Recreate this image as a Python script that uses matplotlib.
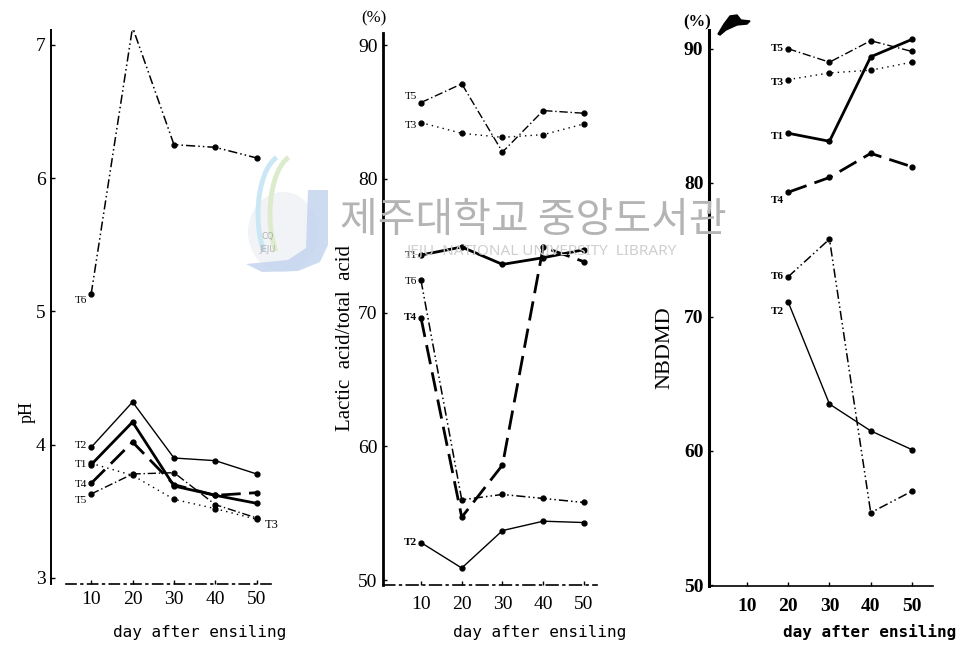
import matplotlib
matplotlib.use('Agg')
import matplotlib.pyplot as plt
from matplotlib.patches import Polygon, Arc, Ellipse

plt.rcParams['font.family'] = ['Liberation Serif', 'DejaVu Serif']

# ---- data ----
days = [10, 20, 30, 40, 50]
days_nb = [20, 30, 40, 50]

ph_t1 = [3.85, 4.17, 3.69, 3.62, 3.56]
ph_t2 = [3.98, 4.32, 3.90, 3.88, 3.78]
ph_t3 = [3.86, 3.77, 3.59, 3.52, 3.44]
ph_t4 = [3.71, 4.02, 3.70, 3.62, 3.64]
ph_t5 = [3.63, 3.78, 3.79, 3.55, 3.45]
ph_t6 = [5.13, 7.13, 6.25, 6.23, 6.15]

la_t1 = [74.3, 74.9, 73.6, 74.1, 74.7]
la_t2 = [52.8, 50.9, 53.7, 54.4, 54.3]
la_t3 = [84.2, 83.4, 83.1, 83.3, 84.1]
la_t4 = [69.6, 54.7, 58.6, 74.9, 73.8]
la_t5 = [85.7, 87.1, 82.0, 85.1, 84.9]
la_t6 = [72.4, 56.0, 56.4, 56.1, 55.8]

nb_t1 = [83.7, 83.1, 89.4, 90.7]
nb_t2 = [71.1, 63.5, 61.5, 60.1]
nb_t3 = [87.7, 88.2, 88.4, 89.0]
nb_t4 = [79.3, 80.4, 82.2, 81.2]
nb_t5 = [90.0, 89.0, 90.6, 89.8]
nb_t6 = [73.0, 75.8, 55.4, 57.0]

ph_ticks = [3, 4, 5, 6, 7]
pct_ticks = [50, 60, 70, 80, 90]

W, H = 960, 646


def fx(x):
    return x / W


def fy(y):
    return 1 - y / H


def box(left, right, top, bottom):
    return [fx(left), fy(bottom), (right - left) / W, (bottom - top) / H]


styles = {
    'T1': dict(color='black', lw=2.0, ls='-'),
    'T2': dict(color='black', lw=1.0, ls='-'),
    'T3': dict(color='black', lw=1.0, ls=(0, (1, 3))),
    'T4': dict(color='black', lw=2.0, ls=(0, (7, 3))),
    'T5': dict(color='black', lw=1.0, ls=(0, (6, 2, 1, 2))),
    'T6': dict(color='black', lw=1.1, ls=(0, (6, 2, 1, 2, 1, 2))),
}

fig = plt.figure(figsize=(9.6, 6.46), dpi=100)

# ---- library watermark ----
fig.text(fx(533), fy(221), '제주대학교 중앙도서관', family=['Noto Sans CJK KR', 'DejaVu Sans'],
         fontsize=29.5, color='#b4b4b4', ha='center', va='center', zorder=0)
fig.text(fx(541), fy(251), 'JEJU  NATIONAL UNIVERSITY  LIBRARY', family=['Noto Sans', 'DejaVu Sans'],
         fontsize=11, color='#cfcfcf', ha='center', va='center', zorder=0)
fig.patches.append(Ellipse((fx(283), fy(232)), 70 / W, 80 / H, transform=fig.transFigure,
                           facecolor='#f1f3f6', edgecolor='none', zorder=0))
jpoly = [(fx(x), fy(y)) for x, y in [(308, 190), (328, 190), (328, 245), (320, 262), (298, 271),
                                      (262, 272), (246, 264), (288, 260), (306, 248)]]
fig.patches.append(Polygon(jpoly, closed=True, transform=fig.transFigure,
                           facecolor='#c4d5ee', edgecolor='none', alpha=0.85, zorder=0))
for cx, col in [(284, '#cbe6f4'), (296, '#dcebcc')]:
    fig.patches.append(Arc((fx(cx), fy(214)), 52 / W, 118 / H, theta1=95, theta2=250,
                           transform=fig.transFigure, color=col, lw=3.5, zorder=0))
fig.text(fx(268), fy(243), 'CQ\nJEJU', fontsize=6, color='#b0b0b0', ha='center', va='center',
         linespacing=1.6, family=['DejaVu Sans'])

# ink blot at the top of the right-hand axis
blot = [(fx(x), fy(y)) for x, y in [(718, 34), (724, 24), (730, 16), (737, 15), (741, 20),
                                     (750, 21), (747, 24), (737, 25), (726, 30), (720, 35)]]
fig.patches.append(Polygon(blot, closed=True, transform=fig.transFigure,
                           facecolor='black', edgecolor='black', zorder=3))


def label_series(ax, x, y, name, dy, weight='normal', side='left'):
    if side == 'left':
        ax.annotate(name, (x, y), xytext=(-3, dy), textcoords='offset points',
                    ha='right', va='center', fontsize=8, fontweight=weight)
    else:
        ax.annotate(name, (x, y), xytext=(6, dy), textcoords='offset points',
                    ha='left', va='center', fontsize=9, fontweight=weight)


def style_axes(ax, xlim, ylim, yticks, xpad, bottom_ls, lw_left):
    ax.set_xlim(*xlim)
    ax.set_ylim(*ylim)
    ax.patch.set_alpha(0)
    for s in ['top', 'right']:
        ax.spines[s].set_visible(False)
    ax.spines['left'].set_linewidth(lw_left)
    ax.spines['bottom'].set_linewidth(1.2)
    ax.spines['bottom'].set_linestyle(bottom_ls)
    ax.set_xticks(days)
    ax.set_yticks(yticks)
    ax.tick_params(axis='x', direction='in', length=3, width=1, pad=xpad, labelsize=14)
    ax.tick_params(axis='y', direction='in', length=3, width=1, pad=4, labelsize=14)


# ---- panel 1: pH ----
ax1 = fig.add_axes(box(51, 275, 30, 584))
style_axes(ax1, (0.3, 54.4), (2.955, 7.11), ph_ticks, 5, (0, (6, 3, 1, 3)), 1.4)
ax1.spines['bottom'].set_bounds(4, 54.4)
for name, vals in [('T6', ph_t6), ('T2', ph_t2), ('T5', ph_t5), ('T3', ph_t3), ('T4', ph_t4), ('T1', ph_t1)]:
    ax1.plot(days, vals, marker='o', ms=3.5, **styles[name])
label_series(ax1, days[0], ph_t6[0], 'T6', -5)
label_series(ax1, days[0], ph_t2[0], 'T2', 1)
label_series(ax1, days[0], ph_t1[0], 'T1', 0)
label_series(ax1, days[0], ph_t4[0], 'T4', -1)
label_series(ax1, days[0], ph_t5[0], 'T5', -5)
label_series(ax1, days[-1], ph_t3[-1], 'T3', -4, side='right')
fig.text(fx(27), fy(412), 'pH', rotation=90, fontsize=13, ha='center', va='center')
fig.text(fx(200), fy(632), 'day after ensiling', family=['DejaVu Sans Mono'], fontsize=11.5,
         ha='center', va='center')

# ---- panel 2: lactic acid / total acid ----
ax2 = fig.add_axes(box(383, 597, 33, 585))
style_axes(ax2, (0.67, 53.2), (49.63, 90.9), pct_ticks, 8, (0, (7, 3, 1, 3)), 2.0)
for name, vals in [('T5', la_t5), ('T3', la_t3), ('T1', la_t1), ('T6', la_t6), ('T4', la_t4), ('T2', la_t2)]:
    ax2.plot(days, vals, marker='o', ms=3.5, **styles[name])
label_series(ax2, days[0], la_t5[0], 'T5', 4)
label_series(ax2, days[0], la_t3[0], 'T3', -2)
label_series(ax2, days[0], la_t1[0], 'T1', 0)
label_series(ax2, days[0], la_t6[0], 'T6', -1)
label_series(ax2, days[0], la_t4[0], 'T4', 0, weight='bold')
label_series(ax2, days[0], la_t2[0], 'T2', 0, weight='bold')
fig.text(fx(345), fy(338), 'Lactic  acid/total  acid', rotation=90, fontsize=15,
         ha='center', va='center')
fig.text(fx(374), fy(18), '(%)', fontsize=12, ha='center', va='center')
fig.text(fx(540), fy(632), 'day after ensiling', family=['DejaVu Sans Mono'], fontsize=11.5,
         ha='center', va='center')

# ---- panel 3: NBDMD ----
ax3 = fig.add_axes(box(709, 933, 30, 586))
style_axes(ax3, (0.79, 55.1), (49.93, 91.4), pct_ticks, 8.5, '-', 2.2)
for name, vals in [('T5', nb_t5), ('T3', nb_t3), ('T1', nb_t1), ('T4', nb_t4), ('T6', nb_t6), ('T2', nb_t2)]:
    ax3.plot(days_nb, vals, marker='o', ms=3.5, **styles[name])
label_series(ax3, days_nb[0], nb_t5[0], 'T5', 0, weight='bold')
label_series(ax3, days_nb[0], nb_t3[0], 'T3', -2, weight='bold')
label_series(ax3, days_nb[0], nb_t1[0], 'T1', -2, weight='bold')
label_series(ax3, days_nb[0], nb_t4[0], 'T4', -6, weight='bold')
label_series(ax3, days_nb[0], nb_t6[0], 'T6', 0, weight='bold')
label_series(ax3, days_nb[0], nb_t2[0], 'T2', -7, weight='bold')
for t in ax3.get_xticklabels() + ax3.get_yticklabels():
    t.set_fontweight('bold')
fig.text(fx(665), fy(348), 'NBDMD', rotation=90, fontsize=16, ha='center', va='center')
fig.text(fx(697), fy(22), '(%)', fontsize=12, fontweight='bold', ha='center', va='center')
fig.text(fx(870), fy(632), 'day after ensiling', family=['DejaVu Sans Mono'], fontsize=11.5,
         fontweight='bold', ha='center', va='center')

fig.savefig('out.png', dpi=100)
